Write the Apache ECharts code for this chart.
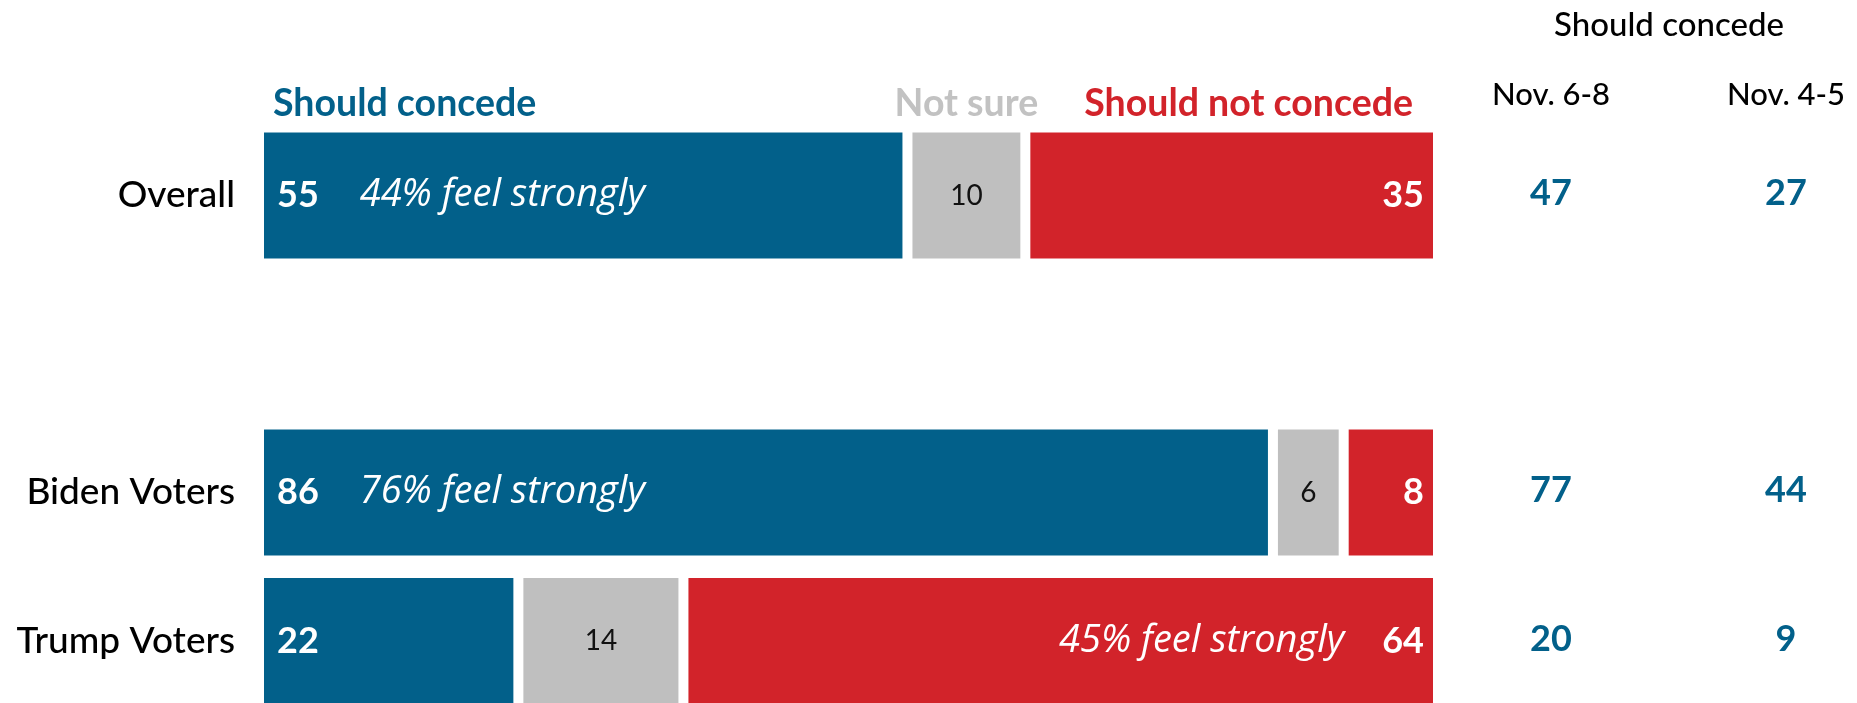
<!DOCTYPE html>
<html><head><meta charset="utf-8">
<script src="https://cdn.jsdelivr.net/npm/echarts@6/dist/echarts.min.js"></script>
<style>html,body{margin:0;padding:0;background:#fff}#c{width:1857px;height:703px}</style>
</head><body><div id="c"></div><script>
// ---- data ----
const categories = ['Overall', '', 'Biden Voters', 'Trump Voters'];
const seriesNames = ['Should concede', 'Not sure', 'Should not concede'];
const shouldConcede = [55, null, 86, 22];
const notSure = [10, null, 6, 14];
const shouldNotConcede = [35, null, 8, 64];
const feelStronglyConcede = ['44% feel strongly', null, '76% feel strongly', null];
const feelStronglyNot = [null, null, null, '45% feel strongly'];
const columnTitle = 'Should concede';
const columnHeads = ['Nov. 6-8', 'Nov. 4-5'];
const nov68 = [47, null, 77, 20];
const nov45 = [27, null, 44, 9];

// ---- style ----
const BLUE = '#02608A', GRAY = '#BFBFBF', RED = '#D2232A', GRAYTXT = '#C2C2C2';
const FONT = 'Lato';
const ITAL = 'Open Sans';
const chart = echarts.init(document.getElementById('c'));

const rich = {
  v: {color: '#fff', fontSize: 36, fontWeight: 'bold', fontFamily: FONT},
  sl: {color: '#fff', fontSize: 38, fontStyle: 'italic', fontWeight: 400, fontFamily: ITAL, padding: [0, 0, 0, 41]},
  sr: {color: '#fff', fontSize: 38, fontStyle: 'italic', fontWeight: 400, fontFamily: ITAL, padding: [0, 38, 0, 0]}
};

function barSeries(name, data, color, label) {
  return {
    name, type: 'bar', stack: 'total', barWidth: 136, clip: false,
    data, itemStyle: {color, borderColor: '#fff', borderWidth: 5},
    label, emphasis: {disabled: true}, silent: true
  };
}

chart.setOption({
  animation: false,
  grid: {left: 259, top: 195.5, width: 1179, height: 445.5},
  xAxis: {type: 'value', min: 0, max: 100, show: false},
  yAxis: {
    type: 'category', data: categories, inverse: true, boundaryGap: false,
    axisLine: {show: false}, axisTick: {show: false}, splitLine: {show: false},
    axisLabel: {fontSize: 37, fontFamily: FONT, fontWeight: 500, color: '#000', margin: 24}
  },
  series: [
    barSeries(seriesNames[0], shouldConcede, BLUE, {
      show: true, position: 'insideLeft', distance: 18, rich,
      formatter: p => feelStronglyConcede[p.dataIndex] ? `{v|${p.value}}{sl|${feelStronglyConcede[p.dataIndex]}}` : `{v|${p.value}}`
    }),
    barSeries(seriesNames[1], notSure, GRAY, {
      show: true, position: 'inside', color: '#111', fontSize: 28, fontFamily: FONT
    }),
    barSeries(seriesNames[2], shouldNotConcede, RED, {
      show: true, position: 'insideRight', distance: 14, rich,
      formatter: p => feelStronglyNot[p.dataIndex] ? `{sr|${feelStronglyNot[p.dataIndex]}}{v|${p.value}}` : `{v|${p.value}}`
    })
  ]
});

// ---- headers and side columns placed via the chart's own scales ----
const px = (x, c) => chart.convertToPixel({gridIndex: 0}, [x, c]);
const y0 = px(0, 0)[1];
const headY = y0 - 92;
const graphics = [];
const headStyle = {fontSize: 37.5, fontWeight: 'bold', fontFamily: FONT, verticalAlign: 'middle'};
graphics.push({type: 'text', x: px(0, 0)[0] + 14, y: headY,
  style: Object.assign({text: seriesNames[0], fill: BLUE, align: 'left'}, headStyle)});
graphics.push({type: 'text', x: px(shouldConcede[0] + notSure[0] / 2, 0)[0], y: headY,
  style: Object.assign({text: seriesNames[1], fill: GRAYTXT, align: 'center'}, headStyle)});
graphics.push({type: 'text', x: px(100, 0)[0] - 25, y: headY,
  style: Object.assign({text: seriesNames[2], fill: RED, align: 'right'}, headStyle)});

const colX = [1551, 1786];
graphics.push({type: 'text', x: 1669, y: 25,
  style: {text: columnTitle, fill: '#000', fontSize: 33, fontWeight: 500, fontFamily: FONT, align: 'center', verticalAlign: 'middle'}});
columnHeads.forEach((h, i) => graphics.push({type: 'text', x: colX[i], y: 95,
  style: {text: h, fill: '#000', fontSize: 31, fontWeight: 500, fontFamily: FONT, align: 'center', verticalAlign: 'middle'}}));
[nov68, nov45].forEach((arr, i) => arr.forEach((v, c) => {
  if (v == null) return;
  graphics.push({type: 'text', x: colX[i], y: px(0, c)[1] - 2,
    style: {text: String(v), fill: BLUE, fontSize: 36, fontWeight: 'bold', fontFamily: FONT, align: 'center', verticalAlign: 'middle'}});
}));
chart.setOption({graphic: graphics});
</script></body></html>
